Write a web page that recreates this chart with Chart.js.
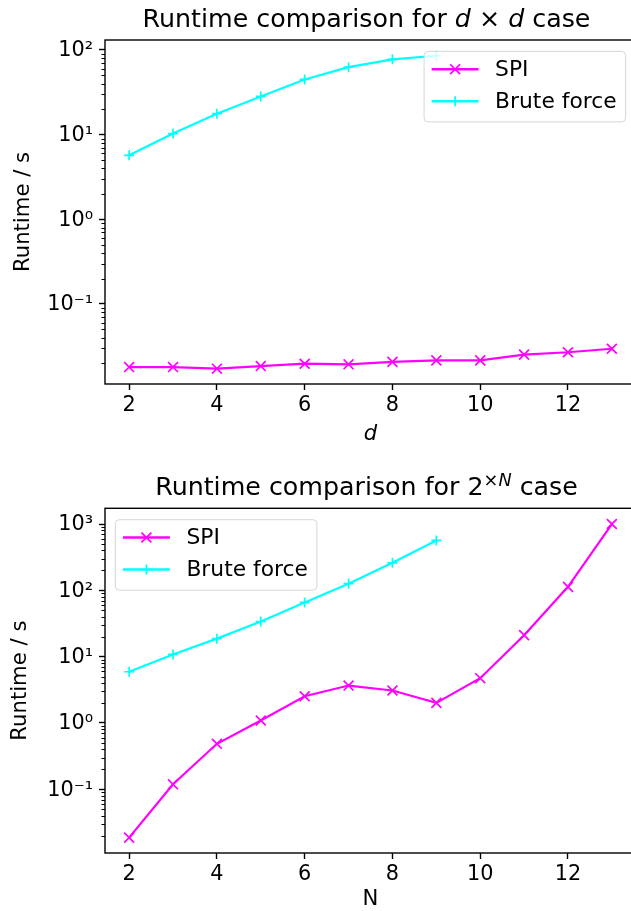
<!DOCTYPE html>
<html>
<head>
<meta charset="utf-8">
<script src="https://cdn.jsdelivr.net/npm/chart.js@4/dist/chart.umd.min.js"></script>
<style>
html,body{margin:0;padding:0;background:#fff;overflow:hidden;width:631px;height:911px;position:relative;}
canvas{position:absolute;left:0;}
#c1{top:0;}
#c2{top:455px;}
</style>
</head>
<body>
<canvas id="c1" width="640" height="455"></canvas>
<canvas id="c2" width="640" height="470"></canvas>
<script>
// ---------- data ----------
const dValues = [2,3,4,5,6,7,8,9,10,11,12,13];
const spiD    = [0.0180,0.0180,0.0172,0.0185,0.0197,0.0194,0.0207,0.0216,0.0216,0.0252,0.0269,0.0296];
const bruteD  = [5.70,10.3,17.7,28.3,44.9,62.7,77.6,85.5];

const nValues = [2,3,4,5,6,7,8,9,10,11,12,13];
const spiN    = [0.0187,0.119,0.486,1.09,2.53,3.67,3.09,2.01,4.74,21.1,113,1000];
const bruteN  = [5.93,10.8,18.7,33.9,65.8,126,260,565];

const xTickValues = [2,4,6,8,10,12];
const yMajorExps  = [-1,0,1,2,3];
const yMajorLabels = ['10⁻¹','10⁰','10¹','10²','10³'];
const seriesLabels = ['SPI','Brute force'];
const seriesColors = ['#ff00ff','#00ffff'];
const seriesMarkers = ['crossRot','cross'];
const yAxisTitle = 'Runtime / s';

const FONT = 'DejaVu Sans';
const FS = 20.8;
const LEGEND_FS = 21.8;
const AXIS_TITLE_FS = 21.2;
const TITLE_FS = 25.3;

function logTicks(min, max) {
  const out = [];
  for (let e = Math.floor(Math.log10(min)); e <= Math.ceil(Math.log10(max)); e++) {
    for (let m = 1; m <= 9; m++) {
      const v = m * Math.pow(10, e);
      if (v >= min * 0.9999 && v <= max * 1.0001) out.push({value: v, major: m === 1});
    }
  }
  return out;
}
function majorLabel(v) {
  const e = Math.round(Math.log10(v));
  const i = yMajorExps.indexOf(e);
  return i >= 0 ? yMajorLabels[i] : '';
}

const decor = {
  id: 'mplDecor',
  afterDatasetsDraw(chart, args, opts) {
    const ctx = chart.ctx, ca = chart.chartArea;
    ctx.save();
    // minor ticks on y axis
    const ys = chart.scales.y;
    ctx.strokeStyle = '#000';
    ctx.lineWidth = 1;
    ys.ticks.forEach(t => {
      if (t.major) return;
      const py = Math.round(ys.getPixelForValue(t.value)) + 0.5;
      ctx.beginPath();
      ctx.moveTo(ca.left, py);
      ctx.lineTo(ca.left - 3.5, py);
      ctx.stroke();
    });
    // frame
    ctx.lineWidth = 1.4;
    ctx.strokeRect(ca.left, ca.top, ca.right - ca.left, ca.bottom - ca.top);
    // legend
    ctx.font = LEGEND_FS + 'px "' + FONT + '"';
    const textW = Math.max(...seriesLabels.map(l => ctx.measureText(l).width));
    const w = 71 + textW + 9;
    const h = 70.5;
    const pad = 10.4;
    const x0 = opts.legendLoc === 'right' ? ca.right - pad - w : ca.left + pad;
    const y0 = ca.top + pad + 1;
    ctx.beginPath();
    if (ctx.roundRect) ctx.roundRect(x0, y0, w, h, 4); else ctx.rect(x0, y0, w, h);
    ctx.fillStyle = 'rgba(255,255,255,0.8)';
    ctx.fill();
    ctx.strokeStyle = 'rgba(204,204,204,0.8)';
    ctx.lineWidth = 1;
    ctx.stroke();
    chart.data.datasets.forEach((ds, i) => {
      const ry = y0 + 17.8 + i * 32;
      ctx.strokeStyle = ds.borderColor;
      ctx.lineWidth = 2.6;
      ctx.lineCap = 'butt';
      ctx.beginPath();
      ctx.moveTo(x0 + 7.5, ry);
      ctx.lineTo(x0 + 54.5, ry);
      ctx.stroke();
      ctx.lineWidth = 1.7;
      Chart.helpers.drawPoint(ctx, {pointStyle: ds.pointStyle, radius: ds.pointRadius, borderWidth: 1.7, rotation: 0}, x0 + 31, ry);
      ctx.fillStyle = '#000';
      ctx.textBaseline = 'middle';
      ctx.textAlign = 'left';
      ctx.font = LEGEND_FS + 'px "' + FONT + '"';
      ctx.fillText(ds.label, x0 + 71, ry + 1);
    });
    ctx.restore();
  },
  afterDraw(chart, args, opts) {
    const ctx = chart.ctx, ca = chart.chartArea;
    ctx.save();
    const size = TITLE_FS;
    const parts = opts.title;
    const fontOf = p => (p.italic ? 'italic ' : '') + (p.sup ? size * 0.7 : size) + 'px "' + FONT + '"';
    let total = 0;
    parts.forEach(p => { ctx.font = fontOf(p); p.w = ctx.measureText(p.t).width; total += p.w; });
    let x = (ca.left + ca.right) / 2 - total / 2 - 4;
    const base = ca.top - 13;
    ctx.fillStyle = '#000';
    ctx.textBaseline = 'alphabetic';
    ctx.textAlign = 'left';
    parts.forEach(p => {
      ctx.font = fontOf(p);
      ctx.fillText(p.t, x, p.sup ? base - 9.5 : base);
      x += p.w;
    });
    ctx.restore();
  }
};

function makeChart(id, xs, spi, brute, cfg) {
  const datasets = [
    {label: seriesLabels[0], data: xs.map((x, i) => ({x, y: spi[i]})), order: 1},
    {label: seriesLabels[1], data: xs.slice(0, brute.length).map((x, i) => ({x, y: brute[i]})), order: 0}
  ].map((d, i) => Object.assign(d, {
    borderColor: seriesColors[i], backgroundColor: seriesColors[i],
    pointBorderColor: seriesColors[i], pointBackgroundColor: seriesColors[i],
    borderWidth: 2.2, pointStyle: seriesMarkers[i], pointRadius: i === 0 ? 7 : 5,
    pointHoverRadius: i === 0 ? 7 : 5, pointBorderWidth: 1.7, tension: 0, fill: false
  }));
  return new Chart(document.getElementById(id), {
    type: 'line',
    data: {datasets},
    plugins: [decor],
    options: {
      responsive: false, animation: false, events: [],
      layout: {autoPadding: false, padding: {top: cfg.padTop, right: 4, left: 0, bottom: 0}},
      plugins: {legend: {display: false}, tooltip: {enabled: false}, title: {display: false},
        mplDecor: {title: cfg.title, legendLoc: cfg.legendLoc}},
      scales: {
        x: {
          type: 'linear', min: 1.45, max: 13.55,
          afterBuildTicks: s => { s.ticks = xTickValues.map(v => ({value: v})); },
          ticks: {autoSkip: false, maxRotation: 0, padding: 3, color: '#000',
            font: {family: FONT, size: FS}, callback: v => String(v)},
          grid: {display: true, drawOnChartArea: false, drawTicks: true, tickLength: 6, tickWidth: 1.4, tickColor: '#000'},
          border: {display: false},
          title: {display: true, text: cfg.xTitle, color: '#000',
            font: {family: FONT, size: AXIS_TITLE_FS, style: cfg.xItalic ? 'italic' : 'normal'},
            padding: {top: 0, bottom: cfg.xTitlePad}},
          afterFit: s => { s.height = cfg.xHeight; s.paddingLeft = 0; s.paddingRight = 0; }
        },
        y: {
          type: 'logarithmic', min: cfg.yMin, max: cfg.yMax,
          afterBuildTicks: s => { s.ticks = logTicks(s.min, s.max); },
          ticks: {autoSkip: false, padding: 6, color: '#000', labelOffset: 1,
            font: {family: FONT, size: FS},
            callback: (v, i, ticks) => ticks[i] && ticks[i].major ? majorLabel(v) : ''},
          grid: {display: true, drawOnChartArea: false, drawTicks: true, tickLength: 6,
            tickWidth: 1.4, tickColor: c => (c.tick && c.tick.major) ? '#000' : 'rgba(0,0,0,0)'},
          border: {display: false},
          title: {display: true, text: yAxisTitle, color: '#000',
            font: {family: FONT, size: AXIS_TITLE_FS}, padding: {top: cfg.yTitlePad, bottom: 0}},
          afterFit: s => { s.width = 105; s.paddingTop = 0; s.paddingBottom = 0; }
        }
      }
    }
  });
}

makeChart('c1', dValues, spiD, bruteD, {
  padTop: 40, xHeight: 71, xTitle: 'd', xItalic: true, xTitlePad: 8, yTitlePad: 11,
  yMin: Math.pow(10, -1.945), yMax: Math.pow(10, 2.118), legendLoc: 'right',
  title: [{t: 'Runtime comparison for '}, {t: 'd', italic: true}, {t: ' × '}, {t: 'd', italic: true}, {t: ' case'}]
});
makeChart('c2', nValues, spiN, bruteN, {
  padTop: 53.3, xHeight: 72, xTitle: 'N', xItalic: false, xTitlePad: 12.5, yTitlePad: 8,
  yMin: Math.pow(10, -1.96), yMax: Math.pow(10, 3.237), legendLoc: 'left',
  title: [{t: 'Runtime comparison for 2'}, {t: '×', sup: true}, {t: 'N', sup: true, italic: true}, {t: ' case'}]
});
</script>
</body>
</html>
